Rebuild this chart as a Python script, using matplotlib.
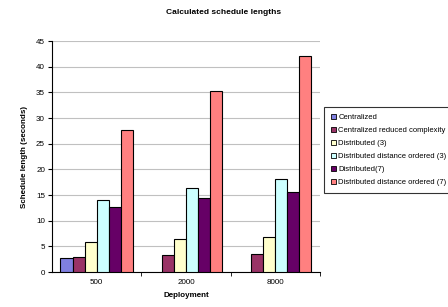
import matplotlib.pyplot as plt
import numpy as np
from matplotlib.patches import Patch

deployments = ['500', '2000', '8000']
series = ['Centralized', 'Centralized reduced complexity', 'Distributed (3)',
          'Distributed distance ordered (3)', 'Distributed(7)',
          'Distributed distance ordered (7)']
centralized = [2.7, 0, 0]
centralized_rc = [3.0, 3.3, 3.5]
dist3 = [5.8, 6.4, 6.9]
dist_ord3 = [14.0, 16.3, 18.2]
dist7 = [12.6, 14.4, 15.6]
dist_ord7 = [27.7, 35.3, 42.2]
colors = ['#8080e0', '#993366', '#ffffcc', '#ccffff', '#660066', '#ff8080']

values = [centralized, centralized_rc, dist3, dist_ord3, dist7, dist_ord7]

plt.rcParams['font.family'] = ['Liberation Sans', 'DejaVu Sans']
fig = plt.figure(figsize=(4.48, 3.07), dpi=100)
ax = fig.add_axes([0.116, 0.114, 0.598, 0.752])

x = np.arange(len(deployments))
w = 0.135
for i, vals in enumerate(values):
    v = np.array(vals, dtype=float)
    mask = v > 0
    ax.bar(x[mask] + (i - 2.5) * w, v[mask], w, color=colors[i],
           edgecolor='black', linewidth=0.8, zorder=3)

ax.set_xlim(-0.5, 2.5)
ax.set_ylim(0, 45)
ax.set_yticks(range(0, 46, 5))
ax.yaxis.grid(True, color='#c0c0c0', linewidth=0.8, zorder=0)
ax.set_xticks(x)
ax.set_xticklabels(deployments)
ax.set_xticks([0.5, 1.5, 2.5], minor=True)
ax.tick_params(axis='x', which='major', length=0, labelsize=5.8, pad=5)
ax.tick_params(axis='x', which='minor', length=3, direction='out')
ax.tick_params(axis='y', labelsize=5.8, length=3, pad=2)
for s in ['top', 'right']:
    ax.spines[s].set_visible(False)
ax.set_xlabel('Deployment', fontsize=5.8, fontweight='bold', labelpad=4)
ax.set_ylabel('Schedule length (seconds)', fontsize=5.8, fontweight='bold', labelpad=6)
fig.text(0.5, 0.96, 'Calculated schedule lengths', ha='center', va='center',
         fontsize=6, fontweight='bold')

handles = [Patch(facecolor=c, edgecolor='black', linewidth=0.6) for c in colors]
leg = fig.legend(handles, series, loc='upper left', bbox_to_anchor=(0.723, 0.652),
                 fontsize=5.5, frameon=True, fancybox=False, edgecolor='black',
                 handlelength=0.7, handleheight=0.7, handletextpad=0.3,
                 labelspacing=0.75, borderpad=0.9, borderaxespad=0)
leg.get_frame().set_linewidth(0.8)

fig.savefig('out.png', dpi=100)
